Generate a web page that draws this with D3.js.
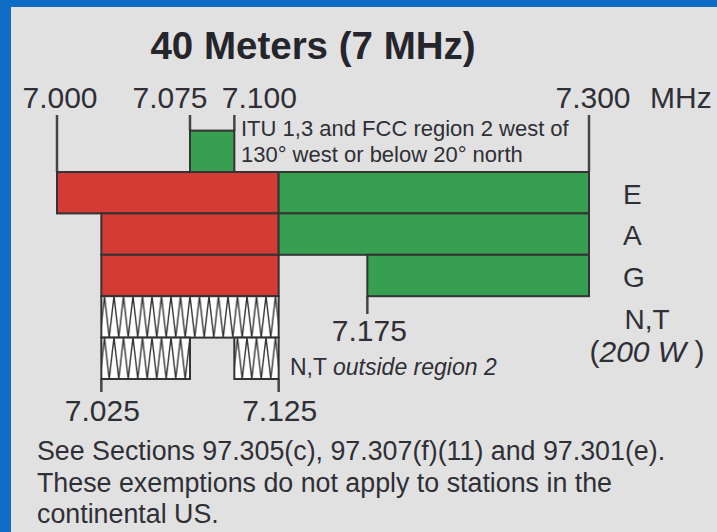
<!DOCTYPE html>
<html>
<head>
<meta charset="utf-8">
<title>40 Meters (7 MHz)</title>
<script src="https://d3js.org/d3.v7.min.js"></script>
<style>
  body { margin: 0; background: #e1e1e1; }
  text { font-family: "Liberation Sans", Arial, sans-serif; fill: #2f2f36; }
</style>
</head>
<body>
<svg width="717" height="532"></svg>
<script>
    // band edges in MHz, one row per licence class
    const rows = ["E", "A", "G", "NT", "NT2"];
    const rowLabels = ["E", "A", "G", "N,T"];
    const redBands = [
        {row: "E", from: 7.000, to: 7.125},
        {row: "A", from: 7.025, to: 7.125},
        {row: "G", from: 7.025, to: 7.125}
    ];
    const greenBands = [
        {row: "E", from: 7.125, to: 7.300},
        {row: "A", from: 7.125, to: 7.300},
        {row: "G", from: 7.175, to: 7.300}
    ];
    const cwBands = [
        {row: "NT", from: 7.025, to: 7.125},
        {row: "NT2", from: 7.025, to: 7.075},
        {row: "NT2", from: 7.100, to: 7.125}
    ];
    const ituBand = {from: 7.075, to: 7.100};
    const topTicks = [7.000, 7.075, 7.100, 7.300];
    const bottomTicks = [7.025, 7.125];
    const midTicks = [7.175];
    const footer = [
        "See Sections 97.305(c), 97.307(f)(11) and 97.301(e).",
        "These exemptions do not apply to stations in the",
        "continental US."
    ];

    const svg = d3.select("svg");
    svg.append("rect").attr("width", 717).attr("height", 532).attr("fill", "#e1e1e1");
    svg.append("rect").attr("width", 717).attr("height", 7).attr("fill", "#0f6cc4");
    svg.append("rect").attr("width", 11).attr("height", 532).attr("fill", "#0f6cc4");

    const x = d3.scaleLinear().domain([7.0, 7.3]).range([57, 589]);
    const y = d3.scaleBand().domain(rows).range([172, 379]);
    const h = y.bandwidth();

    // zigzag hatch for CW-only
    const pat = svg.append("defs").append("pattern")
        .attr("id", "zig")
        .attr("patternUnits", "userSpaceOnUse")
        .attr("x", 0).attr("y", y("NT"))
        .attr("width", 9.5).attr("height", h);
    pat.append("rect").attr("width", 9.5).attr("height", h).attr("fill", "#fff");
    pat.append("path")
        .attr("d", `M0,0 L4.75,${h} L9.5,0`)
        .attr("fill", "none").attr("stroke", "#333").attr("stroke-width", 1.4);

    svg.append("text")
        .attr("x", 313).attr("y", 59)
        .attr("text-anchor", "middle")
        .style("font-size", "38.5px").style("font-weight", "bold")
        .style("fill", "#25252c")
        .text("40 Meters (7 MHz)");

    // tick lines
    const tickStyle = sel => sel.attr("stroke", "#444").attr("stroke-width", 2.5);
    svg.append("g").selectAll("line")
        .data([7.000, 7.300])
        .join("line")
        .attr("x1", d => x(d)).attr("x2", d => x(d))
        .attr("y1", 115).attr("y2", y("E"))
        .call(tickStyle);
    svg.append("g").selectAll("line")
        .data([ituBand.from, ituBand.to])
        .join("line")
        .attr("x1", d => x(d)).attr("x2", d => x(d))
        .attr("y1", 115).attr("y2", y("E") - h)
        .call(tickStyle);
    svg.append("g").selectAll("line")
        .data(bottomTicks)
        .join("line")
        .attr("x1", d => x(d)).attr("x2", d => x(d))
        .attr("y1", y("NT2") + h).attr("y2", 392)
        .call(tickStyle);
    svg.append("g").selectAll("line")
        .data(midTicks)
        .join("line")
        .attr("x1", d => x(d)).attr("x2", d => x(d))
        .attr("y1", y("G") + h).attr("y2", 314)
        .call(tickStyle);

    const barStyle = sel => sel.attr("stroke", "#333").attr("stroke-width", 2);

    svg.append("rect")
        .attr("x", x(ituBand.from)).attr("y", y("E") - h)
        .attr("width", x(ituBand.to) - x(ituBand.from)).attr("height", h)
        .attr("fill", "#379f51").call(barStyle);

    svg.append("g").selectAll("rect")
        .data(redBands)
        .join("rect")
        .attr("x", d => x(d.from)).attr("y", d => y(d.row))
        .attr("width", d => x(d.to) - x(d.from)).attr("height", h)
        .attr("fill", "#d43b35").call(barStyle);
    svg.append("g").selectAll("rect")
        .data(greenBands)
        .join("rect")
        .attr("x", d => x(d.from)).attr("y", d => y(d.row))
        .attr("width", d => x(d.to) - x(d.from)).attr("height", h)
        .attr("fill", "#379f51").call(barStyle);
    svg.append("g").selectAll("rect")
        .data(cwBands)
        .join("rect")
        .attr("x", d => x(d.from)).attr("y", d => y(d.row))
        .attr("width", d => x(d.to) - x(d.from)).attr("height", h)
        .attr("fill", "url(#zig)").call(barStyle);

    // frequency labels
    const topShift = {"7.000": 3, "7.075": -20, "7.100": 25, "7.300": 4};
    svg.append("g").selectAll("text")
        .data(topTicks)
        .join("text")
        .attr("x", d => x(d) + topShift[d.toFixed(3)]).attr("y", 108)
        .attr("text-anchor", "middle")
        .style("font-size", "30px")
        .text(d => d.toFixed(3));
    svg.append("text")
        .attr("x", 650).attr("y", 108)
        .style("font-size", "30px")
        .text("MHz");
    svg.append("g").selectAll("text")
        .data(bottomTicks)
        .join("text")
        .attr("x", d => x(d) + 1).attr("y", 421)
        .attr("text-anchor", "middle")
        .style("font-size", "30px")
        .text(d => d.toFixed(3));
    svg.append("g").selectAll("text")
        .data(midTicks)
        .join("text")
        .attr("x", d => x(d) + 2).attr("y", 341)
        .attr("text-anchor", "middle")
        .style("font-size", "30px")
        .text(d => d.toFixed(3));

    // class labels
    svg.append("g").selectAll("text")
        .data(rowLabels.slice(0, 3))
        .join("text")
        .attr("x", 623).attr("y", (d, i) => y(rows[i]) + h / 2 + 11)
        .style("font-size", "28px")
        .text(d => d);
    svg.append("text")
        .attr("x", 647).attr("y", 329)
        .attr("text-anchor", "middle")
        .style("font-size", "28px")
        .text(rowLabels[3]);
    const pw = svg.append("text")
        .attr("x", 647).attr("y", 362)
        .attr("text-anchor", "middle")
        .style("font-size", "30px");
    pw.append("tspan").text("(");
    pw.append("tspan").style("font-style", "italic").text("200 W");
    pw.append("tspan").text(" )");

    const note = svg.append("g").style("font-size", "22px");
    note.append("text").attr("x", 241).attr("y", 136)
        .text("ITU 1,3 and FCC region 2 west of");
    note.append("text").attr("x", 241).attr("y", 162)
        .text("130° west or below 20° north");

    const nt = svg.append("text")
        .attr("x", 290).attr("y", 375)
        .style("font-size", "23px");
    nt.append("tspan").text("N,T ");
    nt.append("tspan").style("font-style", "italic").text("outside region 2");

    svg.append("g").selectAll("text")
        .data(footer)
        .join("text")
        .attr("x", 37).attr("y", (d, i) => 460 + i * 31.5)
        .style("font-size", "26.8px")
        .text(d => d);
</script>
</body>
</html>
